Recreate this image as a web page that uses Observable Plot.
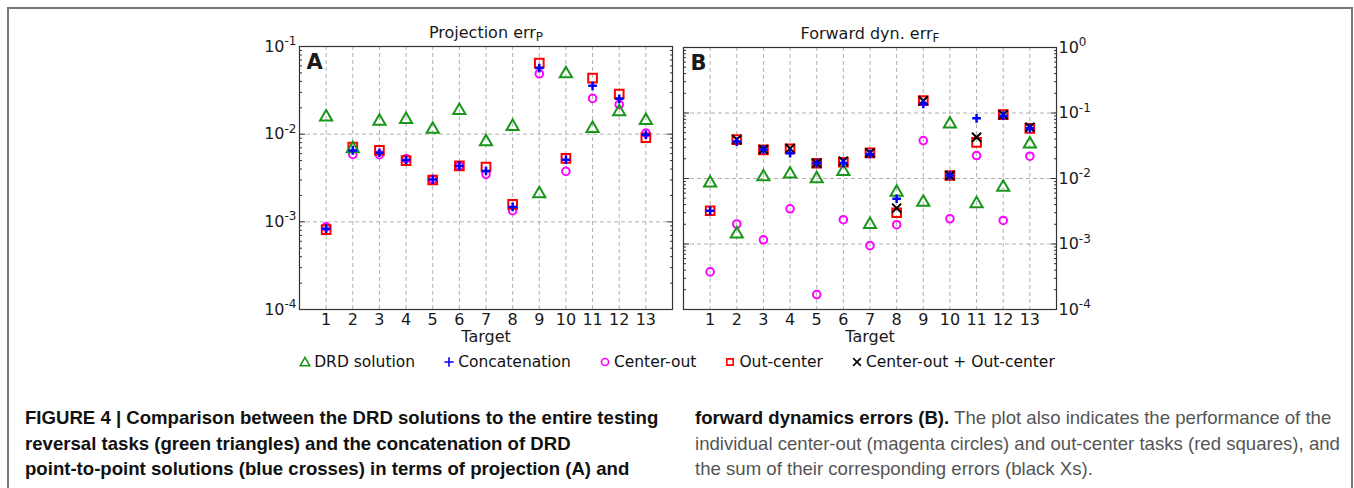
<!DOCTYPE html>
<html><head><meta charset="utf-8">
<script src="https://cdn.jsdelivr.net/npm/d3@7"></script>
<script src="https://cdn.jsdelivr.net/npm/@observablehq/plot@0.6"></script>
<style>
html,body{margin:0;padding:0;background:#fff;}
#page{position:relative;width:1354px;height:488px;overflow:hidden;background:#fff;}
#border{position:absolute;left:7px;top:7px;width:1342px;height:560px;border:2px solid #777;}
#plotA{position:absolute;left:240px;top:15px;}
#plotB{position:absolute;left:675px;top:15px;}
#legend{position:absolute;left:0;top:352px;width:1354px;height:20px;display:flex;justify-content:center;align-items:center;font-family:"DejaVu Sans",sans-serif;font-size:15.5px;color:#111;}
#legend .item{display:flex;align-items:center;margin-left:28px;}
#legend .item:first-child{margin-left:0;}
#legend svg{margin-right:3px;}
.cap{position:absolute;top:405px;font-family:"Liberation Sans",Arial,sans-serif;font-size:18.6px;line-height:25.5px;color:#555;white-space:nowrap;}
.cap b{color:#111;}
#capL{left:25px;}
#capR{left:695px;}
</style>
</head><body>
<div id="page">
  <div id="border"></div>
  <div id="plotA"></div>
  <div id="plotB"></div>
  <div id="legend"></div>
  <div class="cap" id="capL"><b>FIGURE 4 | Comparison between the DRD solutions to the entire testing<br>reversal tasks (green triangles) and the concatenation of DRD<br>point-to-point solutions (blue crosses) in terms of projection (A) and</b></div>
  <div class="cap" id="capR"><b>forward dynamics errors (B).</b> The plot also indicates the performance of the<br>individual center-out (magenta circles) and out-center tasks (red squares), and<br>the sum of their corresponding errors (black Xs).</div>
</div>
<script>
// ---- data ----
const targets = [1, 2, 3, 4, 5, 6, 7, 8, 9, 10, 11, 12, 13];
const seriesNames = ["DRD solution", "Concatenation", "Center-out", "Out-center", "Center-out + Out-center"];

// Panel A: projection error
const projDRD       = [0.0164, 0.00713, 0.0147, 0.0154, 0.0119, 0.0195, 0.00857, 0.0128, 0.00219, 0.0511, 0.0121, 0.0188, 0.0150];
const projConcat    = [0.000835, 0.00653, 0.00614, 0.00507, 0.00305, 0.00434, 0.00380, 0.00148, 0.0567, 0.00512, 0.0356, 0.0253, 0.00986];
const projCenterOut = [0.000875, 0.00588, 0.00583, 0.00525, 0.00305, 0.00434, 0.00348, 0.00134, 0.0489, 0.00376, 0.0256, 0.0218, 0.0103];
const projOutCenter = [0.000814, 0.00713, 0.00653, 0.00498, 0.00300, 0.00434, 0.00422, 0.00158, 0.0646, 0.00529, 0.0435, 0.0287, 0.00910];

// Panel B: forward dynamics error
const fwdDRD       = [0.0091, 0.00151, 0.01124, 0.01248, 0.01048, 0.01355, 0.00211, 0.00657, 0.00462, 0.0721, 0.00436, 0.00782, 0.0357];
const fwdConcat    = [0.00322, 0.0366, 0.0277, 0.0243, 0.0171, 0.0173, 0.0237, 0.0049, 0.137, 0.0111, 0.083, 0.091, 0.0584];
const fwdCenterOut = [0.000375, 0.00202, 0.00116, 0.00345, 0.000169, 0.00235, 0.000944, 0.00197, 0.0379, 0.00243, 0.0224, 0.00229, 0.0219];
const fwdOutCenter = [0.00322, 0.0393, 0.0273, 0.0283, 0.0171, 0.0177, 0.0246, 0.0030, 0.154, 0.0111, 0.0357, 0.0944, 0.0584];
const fwdSum       = [null, 0.0393, 0.0277, 0.0286, 0.0171, 0.0184, 0.0246, 0.00353, 0.154, 0.0111, 0.0426, 0.0944, 0.0605];

const yTicksA = [1e-4, 1e-3, 1e-2, 1e-1];
const yTicksB = [1e-4, 1e-3, 1e-2, 1e-1, 1];

// ---- styles ----
const styles = {
  "Center-out":              {symbol: "circle",   stroke: "#ff00ff", r: 3.8, sw: 2,   dy: 0,   lsize: 40},
  "Out-center":              {symbol: "square",   stroke: "#ff0000", r: 4.9, sw: 2,   dy: 0,   lsize: 40},
  "Center-out + Out-center": {symbol: "times",    stroke: "#000000", r: 4.2, sw: 2,   dy: 0,   lsize: 40},
  "DRD solution":            {symbol: "triangle", stroke: "#1a961a", r: 4.5, sw: 2,   dy: 1.7, lsize: 40},
  "Concatenation":           {symbol: "plus",     stroke: "#0000ff", r: 2.9, sw: 2.5, dy: 0,   lsize: 30}
};
const drawOrder = ["Center-out", "Out-center", "Center-out + Out-center", "DRD solution", "Concatenation"];

function rows(values) { return targets.map((t, i) => ({target: t, value: values[i]})); }

function minorTicks(lo, hi) {
  const out = [];
  for (let e = lo; e < hi; e++) for (let m = 2; m <= 9; m++) out.push(m * Math.pow(10, e));
  return out;
}
const fmt = d => `10^${Math.round(Math.log10(d))}`;
const grid = {stroke: "#a8a8a8", strokeOpacity: 1, strokeWidth: 0.9, strokeDasharray: "4,3"};

function panel({seriesData, yDomain, yTicks, axisSide, title, letter, ml, mr, mt, mb, width}) {
  const minors = minorTicks(Math.round(Math.log10(yDomain[0])), Math.round(Math.log10(yDomain[1])));
  const marks = [
    Plot.gridX(targets, grid),
    Plot.gridY(yTicks.slice(1, -1), grid)
  ];
  for (const name of drawOrder) {
    if (!seriesData[name]) continue;
    const s = styles[name];
    marks.push(Plot.dot(rows(seriesData[name]), {
      x: "target", y: "value", symbol: s.symbol, r: s.r, stroke: s.stroke,
      strokeWidth: s.sw, fill: "none", dy: s.dy
    }));
  }
  marks.push(Plot.frame({stroke: "#333", strokeWidth: 1.2}));
  for (const side of ["left", "right"]) {
    const sgn = side === "left" ? 1 : -1;
    marks.push(Plot.axisY(yTicks, {anchor: side, tickSize: 6, dx: 6 * sgn, tickFormat: () => "", label: null, stroke: "#333"}));
    marks.push(Plot.axisY(minors, {anchor: side, tickSize: 3, dx: 3 * sgn, tickFormat: () => "", label: null, stroke: "#333"}));
  }
  marks.push(Plot.axisY(yTicks, {anchor: axisSide, tickSize: 0, tickPadding: axisSide === "left" ? 3 : 2, tickFormat: fmt, label: null, fontSize: 16}));
  marks.push(Plot.axisX(targets, {anchor: "bottom", tickSize: 0, tickPadding: 4, label: null, fontSize: 16}));
  marks.push(Plot.text(["Target"], {text: d => d, frameAnchor: "bottom", lineAnchor: "middle", dy: 27, fontSize: 16}));
  marks.push(Plot.text([title], {text: d => d, frameAnchor: "top", lineAnchor: "middle", dy: -14, fontSize: 16}));
  marks.push(Plot.text([letter], {text: d => d, frameAnchor: "top-left", lineAnchor: "middle", textAnchor: "middle", dx: 15, dy: 16, fontSize: 21, fontWeight: "bold"}));
  const svg = Plot.plot({
    width, height: 330,
    marginLeft: ml, marginRight: mr, marginTop: mt, marginBottom: mb,
    x: {domain: [0, 14], label: null},
    y: {type: "log", domain: yDomain, label: null},
    style: {fontFamily: "DejaVu Sans, sans-serif", fontSize: "16px", color: "#1a1a1a", background: "transparent", overflow: "visible"},
    marks
  });
  // superscripts / subscripts
  d3.select(svg).selectAll("text").each(function () {
    const t = this.textContent;
    let m;
    if ((m = t.match(/^(.+)\^(.+)$/))) {
      const sel = d3.select(this); sel.text(null);
      sel.append("tspan").text(m[1]);
      sel.append("tspan").attr("dy", "-0.55em").attr("font-size", "0.75em").text(m[2]);
    } else if ((m = t.match(/^(.+)_(.+)$/))) {
      const sel = d3.select(this); sel.text(null);
      sel.append("tspan").text(m[1]);
      sel.append("tspan").attr("dy", "0.3em").attr("font-size", "0.75em").text(m[2]);
    }
  });
  return svg;
}

document.getElementById("plotA").append(panel({
  seriesData: {"DRD solution": projDRD, "Concatenation": projConcat, "Center-out": projCenterOut, "Out-center": projOutCenter},
  yDomain: [1e-4, 1e-1], yTicks: yTicksA, axisSide: "left",
  title: "Projection err_P", letter: "A", width: 450, ml: 59, mr: 18, mt: 31, mb: 36
}));
document.getElementById("plotB").append(panel({
  seriesData: {"DRD solution": fwdDRD, "Concatenation": fwdConcat, "Center-out": fwdCenterOut, "Out-center": fwdOutCenter, "Center-out + Out-center": fwdSum},
  yDomain: [1e-4, 1], yTicks: yTicksB, axisSide: "right",
  title: "Forward dyn. err_F", letter: "B", width: 430, ml: 8, mr: 49, mt: 32, mb: 36
}));

// legend
const symbolMap = {circle: d3.symbolCircle, square: d3.symbolSquare, times: d3.symbolTimes, triangle: d3.symbolTriangle, plus: d3.symbolPlus};
const legend = d3.select("#legend");
for (const name of seriesNames) {
  const s = styles[name];
  const item = legend.append("span").attr("class", "item");
  const sv = item.append("svg").attr("width", 12).attr("height", 14);
  sv.append("path")
    .attr("transform", `translate(6,${7 + (s.symbol === "triangle" ? 1 : 0)})`)
    .attr("d", d3.symbol(symbolMap[s.symbol], s.lsize)())
    .attr("fill", "none").attr("stroke", s.stroke).attr("stroke-width", 1.6);
  item.append("span").text(name);
}
</script>
</body></html>
